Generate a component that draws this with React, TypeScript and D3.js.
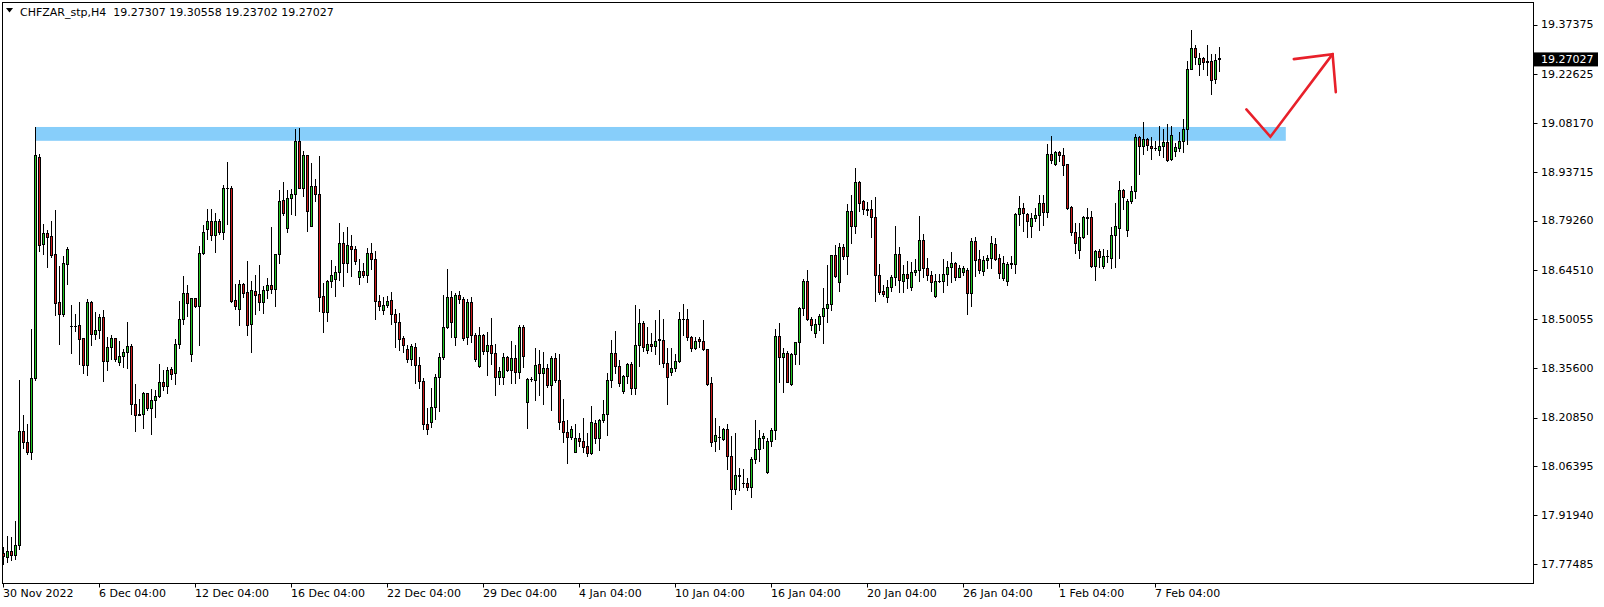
import React from 'react';
import * as d3 from 'd3';

const W = 1604;
const H = 607;

const symbolTitle = 'CHFZAR_stp,H4';
const headerValues = ['19.27307', '19.30558', '19.23702', '19.27027'];
const lastPrice = 19.27027;

const opens = [
17.806,17.796,17.814,17.802,17.832,18.170,18.137,18.106,18.325,18.980,
18.724,18.755,18.746,18.692,18.550,18.516,18.665,18.480,18.480,18.482,
18.443,18.365,18.550,18.457,18.467,18.508,18.377,18.417,18.443,18.374,
18.390,18.402,18.420,18.250,18.217,18.218,18.280,18.238,18.260,18.274,
18.313,18.302,18.352,18.341,18.428,18.500,18.577,18.396,18.562,18.540,
18.697,18.768,18.790,18.750,18.790,18.759,18.888,18.888,18.556,18.531,
18.604,18.580,18.485,18.583,18.574,18.552,18.586,18.603,18.590,18.692,
18.855,18.771,18.858,18.870,19.027,18.890,18.986,18.777,18.894,18.870,
18.568,18.522,18.612,18.620,18.639,18.725,18.667,18.717,18.709,18.626,
18.642,18.632,18.695,18.679,18.555,18.528,18.541,18.556,18.517,18.493,
18.443,18.411,18.381,18.418,18.365,18.317,18.191,18.194,18.239,18.328,
18.387,18.476,18.565,18.446,18.571,18.561,18.446,18.550,18.452,18.360,
18.452,18.407,18.423,18.399,18.328,18.330,18.387,18.351,18.385,18.344,
18.476,18.254,18.322,18.319,18.366,18.341,18.357,18.304,18.385,18.319,
18.197,18.166,18.152,18.108,18.147,18.139,18.123,18.105,18.192,18.147,
18.200,18.219,18.319,18.400,18.362,18.288,18.331,18.367,18.295,18.425,
18.488,18.409,18.428,18.420,18.441,18.440,18.369,18.345,18.357,18.375,
18.501,18.500,18.446,18.414,18.441,18.437,18.411,18.310,18.138,18.150,
18.146,18.174,18.096,17.997,18.037,18.016,18.014,18.004,18.086,18.116,
18.147,18.046,18.139,18.171,18.450,18.389,18.401,18.307,18.397,18.432,
18.532,18.613,18.502,18.458,18.486,18.509,18.532,18.544,18.690,18.611,
18.714,18.689,18.821,18.777,18.907,18.850,18.826,18.826,18.804,18.632,
18.583,18.565,18.596,18.625,18.693,18.612,18.633,18.597,18.639,18.646,
18.734,18.651,18.630,18.570,18.612,18.614,18.633,18.654,18.667,18.626,
18.639,18.645,18.579,18.733,18.678,18.644,18.675,18.683,18.723,18.682,
18.621,18.613,18.663,18.663,18.811,18.829,18.812,18.777,18.799,18.808,
18.846,18.819,18.991,18.961,18.995,18.988,18.959,18.832,18.760,18.706,
18.743,18.802,18.802,18.659,18.702,18.659,18.689,18.683,18.749,18.772,
18.882,18.766,18.850,18.879,19.040,19.014,19.034,19.013,19.009,19.002,
19.013,19.025,18.974,19.000,19.008,19.028,19.065,19.243,19.303,19.258,
19.273,19.263,19.265,19.211,19.27307
];

const highs = [
17.824,17.858,17.854,17.901,18.320,18.216,18.191,18.471,19.070,18.990,
18.782,18.764,18.791,18.824,18.658,18.687,18.715,18.542,18.515,18.551,
18.445,18.560,18.555,18.521,18.515,18.527,18.448,18.452,18.445,18.435,
18.412,18.492,18.426,18.308,18.263,18.283,18.282,18.294,18.290,18.367,
18.351,18.359,18.359,18.442,18.554,18.628,18.601,18.564,18.564,18.717,
18.778,18.827,18.826,18.815,18.798,18.897,18.966,18.896,18.604,18.615,
18.607,18.672,18.612,18.631,18.661,18.600,18.622,18.773,18.694,18.883,
18.906,18.883,18.886,19.064,19.067,18.998,18.988,18.963,18.917,18.984,
18.607,18.616,18.675,18.658,18.785,18.758,18.773,18.749,18.717,18.680,
18.668,18.711,18.725,18.702,18.571,18.566,18.569,18.581,18.529,18.518,
18.450,18.424,18.427,18.429,18.388,18.325,18.236,18.296,18.338,18.399,
18.572,18.649,18.584,18.577,18.584,18.565,18.559,18.565,18.458,18.476,
18.455,18.461,18.503,18.426,18.358,18.399,18.392,18.435,18.423,18.482,
18.482,18.325,18.328,18.415,18.409,18.403,18.367,18.391,18.400,18.397,
18.264,18.201,18.184,18.189,18.162,18.207,18.163,18.243,18.202,18.204,
18.261,18.342,18.438,18.465,18.379,18.336,18.369,18.372,18.542,18.530,
18.496,18.476,18.459,18.498,18.527,18.501,18.415,18.415,18.396,18.521,
18.545,18.530,18.450,18.447,18.446,18.498,18.413,18.329,18.206,18.185,
18.177,18.189,18.154,18.163,18.058,18.056,18.029,18.093,18.201,18.172,
18.162,18.147,18.177,18.472,18.490,18.414,18.407,18.399,18.434,18.537,
18.618,18.645,18.508,18.501,18.517,18.592,18.661,18.691,18.719,18.725,
18.723,18.841,18.868,18.948,18.909,18.855,18.847,18.853,18.862,18.664,
18.603,18.616,18.631,18.776,18.715,18.661,18.674,18.671,18.678,18.806,
18.752,18.682,18.642,18.633,18.633,18.678,18.674,18.699,18.671,18.660,
18.658,18.653,18.741,18.744,18.705,18.687,18.690,18.747,18.740,18.692,
18.688,18.670,18.688,18.814,18.865,18.845,18.816,18.816,18.831,18.869,
18.868,19.019,19.043,18.999,18.999,19.008,18.961,18.835,18.784,18.784,
18.806,18.831,18.821,18.705,18.707,18.707,18.705,18.774,18.844,18.911,
18.887,18.857,18.895,19.048,19.043,19.084,19.036,19.039,19.028,19.072,
19.065,19.078,19.072,19.023,19.056,19.095,19.267,19.357,19.313,19.288,
19.278,19.313,19.286,19.286,19.30558
];

const lows = [
17.775,17.780,17.785,17.790,17.820,18.117,18.102,18.087,18.320,18.703,
18.693,18.656,18.685,18.513,18.426,18.510,18.605,18.401,18.466,18.367,
18.340,18.335,18.425,18.442,18.444,18.318,18.350,18.382,18.377,18.363,
18.359,18.357,18.218,18.170,18.215,18.177,18.231,18.161,18.209,18.270,
18.290,18.282,18.322,18.308,18.414,18.486,18.510,18.377,18.537,18.424,
18.693,18.737,18.735,18.700,18.753,18.739,18.783,18.551,18.529,18.484,
18.567,18.454,18.404,18.515,18.527,18.519,18.564,18.579,18.540,18.667,
18.810,18.759,18.813,18.810,18.888,18.866,18.762,18.775,18.851,18.524,
18.463,18.496,18.595,18.570,18.616,18.598,18.641,18.629,18.663,18.605,
18.626,18.611,18.648,18.502,18.528,18.516,18.535,18.485,18.419,18.408,
18.402,18.374,18.365,18.310,18.295,18.174,18.159,18.182,18.205,18.229,
18.383,18.474,18.448,18.425,18.549,18.439,18.427,18.434,18.375,18.358,
18.398,18.334,18.368,18.276,18.307,18.307,18.348,18.311,18.310,18.325,
18.359,18.179,18.316,18.262,18.276,18.250,18.300,18.232,18.315,18.176,
18.137,18.075,18.146,18.106,18.124,18.108,18.095,18.102,18.134,18.112,
18.195,18.157,18.298,18.341,18.303,18.282,18.310,18.277,18.278,18.362,
18.406,18.399,18.407,18.397,18.366,18.359,18.250,18.336,18.347,18.373,
18.453,18.440,18.407,18.411,18.418,18.408,18.305,18.125,18.109,18.115,
18.143,18.055,17.937,17.982,17.994,18.004,17.994,17.972,18.073,18.081,
18.117,18.043,18.125,18.145,18.315,18.285,18.313,18.305,18.367,18.367,
18.512,18.497,18.468,18.446,18.467,18.430,18.493,18.527,18.625,18.585,
18.679,18.634,18.727,18.757,18.822,18.812,18.810,18.744,18.554,18.574,
18.570,18.551,18.585,18.603,18.582,18.582,18.594,18.587,18.631,18.613,
18.626,18.616,18.585,18.566,18.609,18.582,18.603,18.611,18.616,18.624,
18.632,18.517,18.539,18.628,18.638,18.631,18.651,18.651,18.676,18.621,
18.616,18.603,18.652,18.638,18.780,18.762,18.745,18.743,18.790,18.764,
18.780,18.804,18.964,18.957,18.970,18.927,18.828,18.749,18.697,18.681,
18.740,18.752,18.656,18.616,18.654,18.651,18.670,18.651,18.654,18.682,
18.826,18.747,18.846,18.858,18.931,18.991,19.001,18.976,19.001,18.987,
18.981,18.970,18.972,18.985,18.998,18.996,19.020,19.241,19.258,19.224,
19.243,19.224,19.169,19.199,19.23702
];

const closes = [
17.798,17.814,17.802,17.830,18.170,18.137,18.106,18.325,18.987,18.721,
18.757,18.745,18.690,18.549,18.516,18.666,18.707,18.480,18.481,18.442,
18.365,18.550,18.457,18.467,18.508,18.377,18.417,18.443,18.381,18.390,
18.402,18.420,18.250,18.217,18.218,18.280,18.238,18.260,18.274,18.313,
18.302,18.349,18.337,18.428,18.500,18.577,18.549,18.562,18.540,18.697,
18.760,18.790,18.751,18.790,18.759,18.888,18.889,18.555,18.540,18.606,
18.577,18.484,18.586,18.573,18.552,18.586,18.603,18.590,18.692,18.852,
18.816,18.858,18.870,19.027,18.890,18.986,18.822,18.894,18.870,18.567,
18.522,18.612,18.630,18.639,18.725,18.667,18.719,18.709,18.673,18.642,
18.632,18.695,18.679,18.555,18.540,18.541,18.553,18.516,18.493,18.442,
18.423,18.381,18.420,18.365,18.317,18.191,18.174,18.239,18.328,18.387,
18.476,18.565,18.491,18.571,18.561,18.444,18.550,18.452,18.381,18.452,
18.407,18.423,18.399,18.328,18.348,18.387,18.351,18.385,18.344,18.476,
18.392,18.322,18.322,18.363,18.341,18.357,18.304,18.385,18.319,18.196,
18.167,18.152,18.174,18.147,18.138,18.122,18.105,18.194,18.147,18.200,
18.219,18.319,18.399,18.362,18.312,18.331,18.367,18.295,18.425,18.488,
18.417,18.428,18.420,18.436,18.438,18.369,18.328,18.357,18.375,18.501,
18.502,18.446,18.414,18.437,18.436,18.411,18.307,18.137,18.156,18.152,
18.174,18.096,17.998,18.037,18.035,18.014,18.002,18.086,18.116,18.147,
18.155,18.139,18.171,18.450,18.389,18.399,18.315,18.397,18.432,18.532,
18.613,18.502,18.482,18.486,18.509,18.532,18.544,18.690,18.628,18.714,
18.689,18.821,18.777,18.907,18.846,18.826,18.825,18.804,18.632,18.582,
18.576,18.596,18.625,18.693,18.615,18.633,18.623,18.639,18.646,18.734,
18.651,18.630,18.611,18.612,18.614,18.633,18.654,18.667,18.626,18.653,
18.651,18.579,18.731,18.677,18.646,18.675,18.683,18.725,18.680,18.638,
18.666,18.663,18.666,18.811,18.829,18.814,18.792,18.799,18.808,18.846,
18.819,18.991,18.971,18.995,18.987,18.958,18.830,18.759,18.725,18.743,
18.802,18.801,18.659,18.702,18.685,18.689,18.688,18.749,18.775,18.882,
18.863,18.850,18.879,19.040,19.014,19.034,19.017,19.009,19.008,19.013,
19.025,18.973,19.045,19.010,19.028,19.065,19.243,19.303,19.276,19.273,
19.263,19.265,19.209,19.270,19.27027
];

const priceTicks = [19.37375, 19.22625, 19.08170, 18.93715, 18.79260, 18.64510, 18.50055, 18.35600, 18.20850, 18.06395, 17.91940, 17.77485];
const timeTickIndex = [0, 24, 48, 72, 96, 120, 144, 168, 192, 216, 240, 264, 288];
const timeTickLabels = ['30 Nov 2022', '6 Dec 04:00', '12 Dec 04:00', '16 Dec 04:00', '22 Dec 04:00', '29 Dec 04:00', '4 Jan 04:00', '10 Jan 04:00', '16 Jan 04:00', '20 Jan 04:00', '26 Jan 04:00', '1 Feb 04:00', '7 Feb 04:00'];

// resistance zone (rectangle object), in bar index / price units
const zoneBars = [8, 320.7];
const zonePrices = [19.070, 19.029];

// hand-drawn arrow, in bar index / price units
const arrowBars = [310.85, 316.85, 332.4];
const arrowPrices = [19.122, 19.041, 19.286];
const arrowHeadBars = [322.7, 332.4, 333.2];
const arrowHeadPrices = [19.271, 19.286, 19.173];

const BULL = '#22c622';
const BEAR = '#cc1a1a';
const ZONE = '#87cefa';
const ARROW = '#e8202a';
const FONT = "Tahoma, 'DejaVu Sans', sans-serif";

export default function App() {
  const left = 2.5, right = 1533.5, top = 2.5, bottom = 583.5;
  const x = d3.scaleLinear().domain([0, opens.length - 1]).range([3, 1219]);
  const y = d3.scaleLinear().domain([17.77485, 19.37375]).range([563.9, 24.5]);
  const col = (i: number) => Math.round(x(i));
  const py = (p: number) => Math.round(y(p));

  const line = d3.line<[number, number]>().x(d => x(d[0])).y(d => y(d[1]));
  const arrowPath = line(arrowBars.map((b, k) => [b, arrowPrices[k]] as [number, number])) || '';
  const headPath = line(arrowHeadBars.map((b, k) => [b, arrowHeadPrices[k]] as [number, number])) || '';

  const candles = opens.map((o, i) => {
    const c = closes[i];
    const X = col(i);
    const yt = py(Math.max(o, c));
    const yb = py(Math.min(o, c));
    const yh = py(highs[i]);
    const yl = py(lows[i]);
    const fill = c >= o ? BULL : BEAR;
    return (
      <g key={i}>
        <line x1={X + 0.5} x2={X + 0.5} y1={yh} y2={yl + 1} stroke="#000" strokeWidth={1} />
        {yb - yt >= 1 ? (
          <rect x={X - 0.5} y={yt + 0.5} width={2} height={yb - yt} fill={fill} stroke="#000" strokeWidth={1} />
        ) : (
          <line x1={X - 1} x2={X + 2} y1={yt + 0.5} y2={yt + 0.5} stroke="#000" strokeWidth={1} />
        )}
      </g>
    );
  });

  const lastY = y(lastPrice);

  return (
    <svg width={W} height={H} viewBox={`0 0 ${W} ${H}`} style={{ position: 'absolute', left: 0, top: 0, background: '#fff' }}>
      <rect x={0} y={0} width={W} height={H} fill="#fff" />
      <rect
        x={x(zoneBars[0])}
        y={y(zonePrices[0])}
        width={x(zoneBars[1]) - x(zoneBars[0])}
        height={y(zonePrices[1]) - y(zonePrices[0])}
        fill={ZONE}
      />
      {candles}
      <path d={arrowPath} fill="none" stroke={ARROW} strokeWidth={2.6} strokeLinejoin="miter" strokeLinecap="round" />
      <path d={headPath} fill="none" stroke={ARROW} strokeWidth={2.6} strokeLinejoin="miter" strokeLinecap="round" />
      <rect x={left} y={top} width={right - left} height={bottom - top} fill="none" stroke="#000" strokeWidth={1} />
      {priceTicks.map((p, k) => (
        <g key={k}>
          <line x1={right} x2={right + 4} y1={Math.round(y(p)) + 0.5} y2={Math.round(y(p)) + 0.5} stroke="#000" />
          <text x={1541} y={y(p)} dy="0.35em" fontFamily={FONT} fontSize={11} fill="#000">{p.toFixed(5)}</text>
        </g>
      ))}
      <rect x={1534} y={lastY - 7} width={64} height={14} fill="#000" />
      <text x={1541} y={lastY} dy="0.35em" fontFamily={FONT} fontSize={11} fill="#fff">{lastPrice.toFixed(5)}</text>
      {timeTickIndex.map((ti, k) => (
        <g key={k}>
          <line x1={col(ti) + 0.5} x2={col(ti) + 0.5} y1={bottom} y2={bottom + 4} stroke="#000" />
          <text x={col(ti)} y={597} fontFamily={FONT} fontSize={11} fill="#000">{timeTickLabels[k]}</text>
        </g>
      ))}
      <path d="M6,8 L13,8 L9.5,12.5 Z" fill="#000" />
      <text x={20} y={15.5} fontFamily={FONT} fontSize={11} fill="#000" xmlSpace="preserve" style={{ whiteSpace: 'pre' }}>
        {symbolTitle + '  ' + headerValues.join(' ')}
      </text>
    </svg>
  );
}
